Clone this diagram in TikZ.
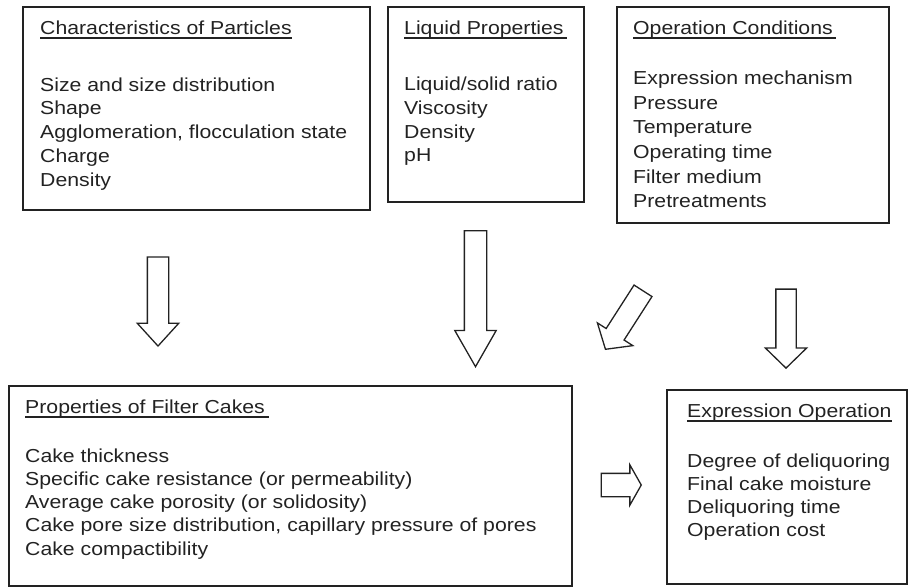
\documentclass[tikz,border=0pt]{standalone}
\usepackage{fontspec}
\setmainfont{Liberation Sans}[FakeStretch=1.13]
\usetikzlibrary{shapes.arrows}
\definecolor{ink}{HTML}{222222}

\begin{document}
\begin{tikzpicture}[
    x=1pt, y=-1pt,
    panel/.style={draw=ink, line width=1.6pt, anchor=north west, inner sep=0pt},
    head/.style={anchor=base west, inner sep=0pt, text=ink, font=\fontsize{18.8}{23}\selectfont},
    item/.style={head},
    uline/.style={draw=ink, line width=1.4pt},
    blockarrow/.style={draw=ink, line width=1.3pt, single arrow, single arrow head indent=0pt,
        inner xsep=0pt, minimum width=0pt, anchor=tip}
]
\useasboundingbox (0,0) rectangle (909,587);

% input boxes
\node[panel, minimum width=347pt, minimum height=203pt] (parts) at (22,6) {};
\node[head] (partsHead) at (40,34) {Characteristics of Particles\ };
\draw[uline] ([yshift=-4pt]partsHead.base west) -- ([yshift=-4pt]partsHead.base east);
\foreach \txt [count=\i] in {Size and size distribution, Shape, {Agglomeration, flocculation state}, Charge, Density}
    \node[item] (partsItem\i) at (40, {91+23.75*(\i-1)}) {\txt};

\node[panel, minimum width=196pt, minimum height=195pt] (liquid) at (387,6) {};
\node[head] (liquidHead) at (404,34) {Liquid Properties};
\draw[uline] ([yshift=-4pt]liquidHead.base west) -- ([yshift=-4pt,xshift=3pt]liquidHead.base east);
\foreach \txt [count=\i] in {Liquid/solid ratio, Viscosity, Density, pH}
    \node[item] (liquidItem\i) at (404, {90.5+23.75*(\i-1)}) {\txt};

\node[panel, minimum width=272pt, minimum height=216pt] (cond) at (616,6) {};
\node[head] (condHead) at (633,34) {Operation Conditions};
\draw[uline] ([yshift=-4pt]condHead.base west) -- ([yshift=-4pt,xshift=3pt]condHead.base east);
\foreach \txt [count=\i] in {Expression mechanism, Pressure, Temperature, Operating time, Filter medium, Pretreatments}
    \node[item] (condItem\i) at (633, {84.3+24.7*(\i-1)}) {\txt};

% result boxes
\node[panel, minimum width=563pt, minimum height=200pt] (cake) at (8,385) {};
\node[head] (cakeHead) at (25,413) {Properties of Filter Cakes};
\draw[uline] ([yshift=-4pt]cakeHead.base west) -- ([yshift=-4pt,xshift=4pt]cakeHead.base east);
\foreach \txt [count=\i] in {Cake thickness, Specific cake resistance (or permeability), Average cake porosity (or solidosity), {Cake pore size distribution, capillary pressure of pores}, Cake compactibility}
    \node[item] (cakeItem\i) at (25, {462+23.3*(\i-1)}) {\txt};

\node[panel, minimum width=240pt, minimum height=194pt] (expr) at (666,389) {};
\node[head] (exprHead) at (687,417) {Expression Operation\ };
\draw[uline] ([yshift=-4pt]exprHead.base west) -- ([yshift=-4pt]exprHead.base east);
\foreach \txt [count=\i] in {Degree of deliquoring, Final cake moisture, Deliquoring time, Operation cost}
    \node[item] (exprItem\i) at (687, {467+23.3*(\i-1)}) {\txt};

% block arrows
\node[blockarrow, rotate=-90, inner ysep=10pt, single arrow head extend=10pt,
    single arrow tip angle=84.6, minimum height=89pt] (partsArrow) at (158,347) {};
\node[blockarrow, rotate=-90, inner ysep=10.5pt, single arrow head extend=9.5pt,
    single arrow tip angle=59.5, minimum height=136pt] (liquidArrow) at (475.5,368) {};
\node[blockarrow, rotate=237.3, inner ysep=10pt, single arrow head extend=10.4pt,
    single arrow tip angle=99.4, minimum height=69.5pt] (condArrow) at (605,350) {};
\node[blockarrow, rotate=-90, inner ysep=9.5pt, single arrow head extend=10.5pt,
    single arrow tip angle=91.6, minimum height=79pt] (exprArrow) at (786,369) {};
\node[blockarrow, inner ysep=11pt, single arrow head extend=8.5pt,
    single arrow tip angle=121, minimum height=40pt] (cakeArrow) at (642,485) {};
\end{tikzpicture}
\end{document}
